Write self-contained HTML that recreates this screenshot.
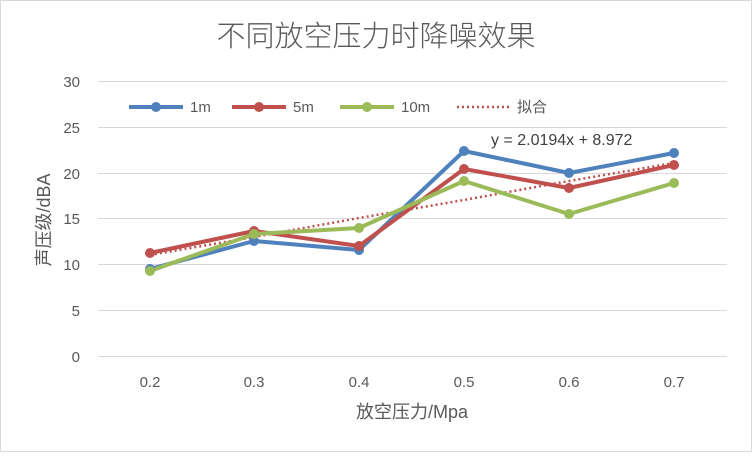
<!DOCTYPE html>
<html><head><meta charset="utf-8"><style>
html,body{margin:0;padding:0;background:#fff;}
svg text{font-family:"Liberation Sans","Noto Sans CJK SC",sans-serif;}
</style></head><body>
<svg width="752" height="452" viewBox="0 0 752 452" xmlns="http://www.w3.org/2000/svg">
<rect x="0.5" y="0.5" width="751" height="451" fill="#fff" stroke="#d9d9d9"/>
<text x="376" y="46" text-anchor="middle" font-size="29" font-weight="300" fill="#595959">不同放空压力时降噪效果</text>
<g stroke="#d9d9d9" stroke-width="1">
<line x1="98" y1="81.5" x2="727" y2="81.5"/>
<line x1="98" y1="127.5" x2="727" y2="127.5"/>
<line x1="98" y1="173.5" x2="727" y2="173.5"/>
<line x1="98" y1="218.5" x2="727" y2="218.5"/>
<line x1="98" y1="264.5" x2="727" y2="264.5"/>
<line x1="98" y1="310.5" x2="727" y2="310.5"/>
<line x1="98" y1="356.5" x2="727" y2="356.5"/>
</g>
<g font-size="15" fill="#595959" text-anchor="end">
<text x="80" y="87">30</text><text x="80" y="133">25</text><text x="80" y="179">20</text>
<text x="80" y="224">15</text><text x="80" y="270">10</text><text x="80" y="316">5</text><text x="80" y="362">0</text>
</g>
<g font-size="15" fill="#595959" text-anchor="middle">
<text x="150" y="387">0.2</text><text x="254" y="387">0.3</text><text x="359" y="387">0.4</text>
<text x="464" y="387">0.5</text><text x="569" y="387">0.6</text><text x="674" y="387">0.7</text>
</g>
<text x="412" y="418" text-anchor="middle" font-size="18" fill="#595959">放空压力/Mpa</text>
<text transform="translate(50,220) rotate(-90)" text-anchor="middle" font-size="18" fill="#595959">声压级/dBA</text>
<polyline points="150,255 254,237 359,218 464,200 569,181 674,163" fill="none" stroke="#c0504d" stroke-width="2.5" stroke-dasharray="2,3"/>
<g fill="none" stroke-width="4" stroke-linejoin="round">
<polyline points="150,269 254,241 359,250 464,151 569,173 674,153" stroke="#4f81bd"/>
<polyline points="150,253 254,231 359,246 464,169 569,188 674,165" stroke="#c0504d"/>
<polyline points="150,271 254,234 359,228 464,181 569,214 674,183" stroke="#9bbb59"/>
</g>
<g fill="#4f81bd"><circle cx="150" cy="269" r="5"/><circle cx="254" cy="241" r="5"/><circle cx="359" cy="250" r="5"/><circle cx="464" cy="151" r="5"/><circle cx="569" cy="173" r="5"/><circle cx="674" cy="153" r="5"/></g>
<g fill="#c0504d"><circle cx="150" cy="253" r="5"/><circle cx="254" cy="231" r="5"/><circle cx="359" cy="246" r="5"/><circle cx="464" cy="169" r="5"/><circle cx="569" cy="188" r="5"/><circle cx="674" cy="165" r="5"/></g>
<g fill="#9bbb59"><circle cx="150" cy="271" r="5"/><circle cx="254" cy="234" r="5"/><circle cx="359" cy="228" r="5"/><circle cx="464" cy="181" r="5"/><circle cx="569" cy="214" r="5"/><circle cx="674" cy="183" r="5"/></g>
<text x="491" y="145" font-size="16" fill="#404040">y = 2.0194x + 8.972</text>
<g font-size="15" fill="#595959">
<line x1="129" y1="107" x2="183" y2="107" stroke="#4f81bd" stroke-width="4"/><circle cx="156" cy="107" r="5" fill="#4f81bd"/><text x="190" y="112">1m</text>
<line x1="232" y1="107" x2="286" y2="107" stroke="#c0504d" stroke-width="4"/><circle cx="259" cy="107" r="5" fill="#c0504d"/><text x="293" y="112">5m</text>
<line x1="340" y1="107" x2="394" y2="107" stroke="#9bbb59" stroke-width="4"/><circle cx="367" cy="107" r="5" fill="#9bbb59"/><text x="401" y="112">10m</text>
<line x1="457" y1="107" x2="510" y2="107" stroke="#c0504d" stroke-width="2.5" stroke-dasharray="2,3"/><text x="517" y="112">拟合</text>
</g>
</svg>
</body></html>
